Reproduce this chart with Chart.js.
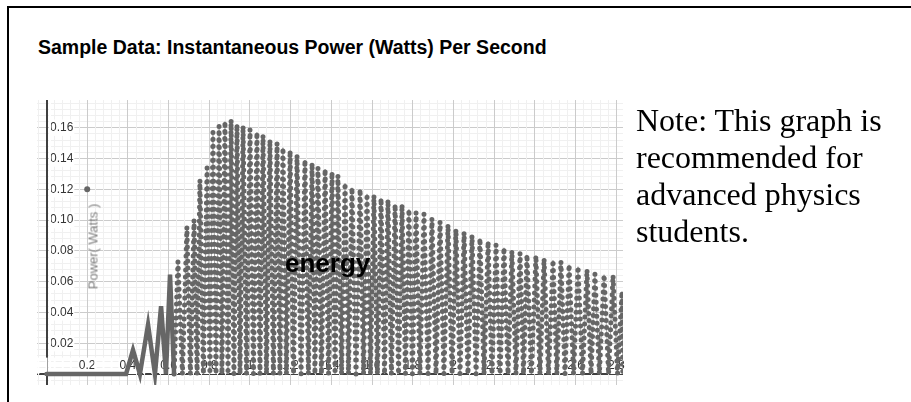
<!DOCTYPE html>
<html>
<head>
<meta charset="utf-8">
<script src="https://cdn.jsdelivr.net/npm/chart.js@4.4.1/dist/chart.umd.min.js"></script>
<style>
  html, body { margin: 0; padding: 0; background: #fff; overflow: hidden; }
  body { width: 911px; height: 402px; position: relative; }
  #frame { position: absolute; left: 7px; top: 6px; width: 940px; height: 440px;
           border-top: 2px solid #000; border-left: 2px solid #000; }
  #title { position: absolute; left: 38px; top: 36px; white-space: nowrap;
           font: bold 19.5px "Liberation Sans", Arial, sans-serif; color: #000; }
  #chartBox { position: absolute; left: 0; top: 60px; width: 660px; height: 349px; }
  #yLabel { position: absolute; left: 50px; top: 239px; width: 86px; height: 15px; line-height: 15px;
            text-align: center; transform: rotate(-90deg); white-space: nowrap;
            font: 13px "Liberation Sans", Arial, sans-serif; color: #808080; }
  #energy { position: absolute; left: 285px; top: 248px; line-height: 26px; white-space: nowrap;
            font: bold 26px "Liberation Sans", Arial, sans-serif; color: #000; }
  #note { position: absolute; left: 636px; top: 102px; width: 272px;
          font: 32px "Liberation Serif", "Times New Roman", serif; line-height: 37px; color: #000; }
</style>
</head>
<body>
<div id="frame"></div>
<div id="title">Sample Data: Instantaneous Power (Watts) Per Second</div>
<div id="chartBox"><canvas id="powerChart"></canvas></div>
<div id="yLabel">Power( Watts )</div>
<div id="energy">energy</div>
<div id="note">Note: This graph is recommended for advanced physics students.</div>

<script>
// time (s) where the power drops back to ~0 before each swing, plus the last one
const troughTime = [
    0.391, 0.459, 0.533, 0.587, 0.627, 0.668, 0.707, 0.740, 0.771, 0.803,
    0.833, 0.862, 0.892, 0.921, 0.951, 0.983, 1.017, 1.049, 1.081, 1.115,
    1.147, 1.179, 1.214, 1.251, 1.287, 1.319, 1.351, 1.386, 1.418, 1.450,
    1.484, 1.521, 1.558, 1.592, 1.626, 1.661, 1.695, 1.730, 1.764, 1.798,
    1.835, 1.875, 1.914, 1.953, 1.993, 2.032, 2.071, 2.111, 2.150, 2.189,
    2.229, 2.268, 2.307, 2.344, 2.383, 2.425, 2.467, 2.508, 2.548, 2.590,
    2.634, 2.676, 2.717, 2.762, 2.806, 2.832
];

// time (s) of each swing's peak
const peakTime = [
    0.425, 0.499, 0.563, 0.607, 0.646, 0.690, 0.725, 0.754, 0.789, 0.818,
    0.848, 0.877, 0.907, 0.936, 0.966, 1.000, 1.034, 1.064, 1.098, 1.133,
    1.162, 1.197, 1.231, 1.270, 1.305, 1.334, 1.369, 1.403, 1.432, 1.467,
    1.501, 1.541, 1.575, 1.609, 1.644, 1.678, 1.713, 1.747, 1.781, 1.816,
    1.855, 1.894, 1.934, 1.973, 2.012, 2.052, 2.091, 2.130, 2.170, 2.209,
    2.248, 2.287, 2.327, 2.361, 2.405, 2.445, 2.489, 2.528, 2.568, 2.612,
    2.656, 2.695, 2.740, 2.784, 2.828
];

// peak power (W) of each swing
const peakPower = [
    0.0155, 0.032, 0.044, 0.0645, 0.073, 0.0955, 0.100, 0.126, 0.134, 0.157,
    0.161, 0.164, 0.165, 0.162, 0.161, 0.159, 0.157, 0.155, 0.152, 0.150,
    0.147, 0.145, 0.142, 0.139, 0.137, 0.134, 0.133, 0.131, 0.129, 0.124,
    0.121, 0.120, 0.117, 0.116, 0.114, 0.113, 0.110, 0.110, 0.107, 0.105,
    0.104, 0.101, 0.099, 0.097, 0.094, 0.092, 0.090, 0.088, 0.086, 0.084,
    0.082, 0.080, 0.0785, 0.0774, 0.0768, 0.075, 0.074, 0.073, 0.071, 0.0697,
    0.0677, 0.065, 0.0645, 0.064, 0.0535
];

const troughPower = 0;
const recordStart = 0;

// lone point plotted at (0.2 s, 0.12 W)
const markerTime = [0.2];
const markerPower = [0.12];

const xTickLabels = ['0.2', '0.4', '0.6', '0.8', '1', '1.2', '1.4', '1.6', '1.8', '2', '2.2', '2.4', '2.6', '2.8'];
const yTickLabels = ['0.02', '0.04', '0.06', '0.08', '0.10', '0.12', '0.14', '0.16'];

const minorX = 0.04, minorY = 0.004;

const powerPoints = [{ x: recordStart, y: troughPower }];
troughTime.forEach((t, i) => {
    powerPoints.push({ x: t, y: troughPower });
    if (i < peakTime.length) powerPoints.push({ x: peakTime[i], y: peakPower[i] });
});
const markerPoints = markerTime.map((t, i) => ({ x: t, y: markerPower[i] }));

const tickFont = { family: '"Liberation Sans", Arial, sans-serif', size: 12 };

function gridColor(step) {
    return ctx => {
        const k = Math.round(ctx.tick.value / step);
        if (k === 0) return '#404040';
        return k % 5 === 0 ? '#cbcbcb' : '#f0f0f0';
    };
}
function gridWidth(step) {
    return ctx => Math.round(ctx.tick.value / step) === 0 ? 2 : 1;
}

new Chart(document.getElementById('powerChart'), {
    type: 'line',
    data: {
        datasets: [{
            label: 'Power (dots)',
            data: powerPoints,
            borderColor: '#666666',
            borderWidth: 5,
            borderCapStyle: 'round',
            borderDash: [0, 7],
            pointRadius: 0,
            tension: 0,
            // the quiet start and the first small swings are sampled so densely they look solid
            segment: {
                borderDash: ctx => ctx.p0.parsed.x < 0.61 ? [] : undefined,
                borderWidth: ctx => ctx.p0.parsed.x < 0.61 ? 4.5 : undefined
            }
        }, {
            label: 'Power (line)',
            data: powerPoints,
            borderColor: '#a8a8a8',
            borderWidth: 1,
            pointRadius: 0,
            tension: 0
        }, {
            label: 'Marker',
            data: markerPoints,
            showLine: false,
            pointRadius: 3,
            pointBackgroundColor: '#666666',
            pointBorderWidth: 0
        }]
    },
    options: {
        responsive: true,
        maintainAspectRatio: false,
        animation: false,
        devicePixelRatio: 1,
        layout: { padding: { left: 11, top: 40, right: 37, bottom: 0 } },
        plugins: { legend: { display: false }, tooltip: { enabled: false } },
        scales: {
            x: {
                type: 'linear',
                position: 'bottom',
                min: -0.0467,
                max: 2.833,
                afterBuildTicks: scale => {
                    const ticks = [];
                    for (let k = -1; k <= 70; k++) ticks.push({ value: k * minorX });
                    scale.ticks = ticks;
                },
                grid: { color: gridColor(minorX), lineWidth: gridWidth(minorX), drawTicks: false, z: -1 },
                border: { display: false },
                ticks: {
                    mirror: true,
                    padding: 12,
                    autoSkip: false,
                    minRotation: 0,
                    maxRotation: 0,
                    font: tickFont,
                    color: '#333',
                    showLabelBackdrop: true,
                    backdropColor: '#fff',
                    backdropPadding: 1,
                    callback: value => {
                        const k = Math.round(value / minorX);
                        return (k > 0 && k % 5 === 0) ? xTickLabels[k / 5 - 1] : '';
                    }
                }
            },
            y: {
                type: 'linear',
                position: 'left',
                min: -0.00715,
                max: 0.178,
                afterBuildTicks: scale => {
                    const ticks = [];
                    for (let k = -1; k <= 44; k++) ticks.push({ value: k * minorY });
                    scale.ticks = ticks;
                },
                grid: { color: gridColor(minorY), lineWidth: gridWidth(minorY), drawTicks: false, z: -2 },
                border: { display: false },
                ticks: {
                    mirror: true,
                    padding: 13,
                    autoSkip: false,
                    font: tickFont,
                    color: '#333',
                    showLabelBackdrop: true,
                    backdropColor: '#fff',
                    backdropPadding: 1,
                    callback: value => {
                        const k = Math.round(value / minorY);
                        return (k > 0 && k % 5 === 0 && k / 5 <= yTickLabels.length) ? yTickLabels[k / 5 - 1] : '';
                    }
                }
            }
        }
    }
});
</script>
</body>
</html>
